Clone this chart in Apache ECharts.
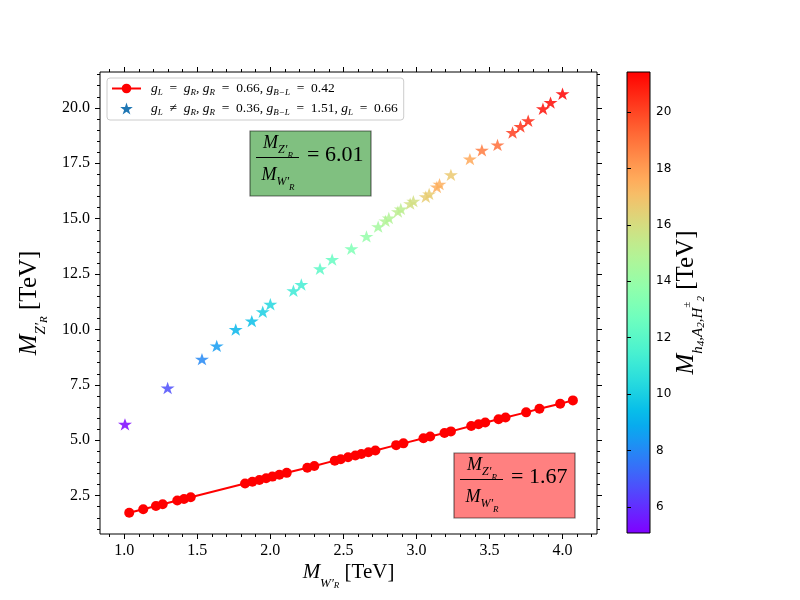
<!DOCTYPE html>
<html>
<head>
<meta charset="utf-8">
<script src="https://cdn.jsdelivr.net/npm/echarts@6/dist/echarts.min.js"></script>
<style>
  html, body { margin: 0; padding: 0; background: #fff; }
  #chart { width: 800px; height: 600px; }
</style>
</head>
<body>
<div id="chart"></div>
<script>
// g_L = g_R case (red line)
const wrMassEq = [1.034, 1.130, 1.217, 1.263, 1.363, 1.409, 1.455, 1.827, 1.877, 1.925, 1.971, 2.014, 2.062, 2.112,
  2.253, 2.301, 2.441, 2.482, 2.532, 2.582, 2.623, 2.671, 2.719, 2.861, 2.911, 3.048, 3.094, 3.192, 3.236,
  3.375, 3.425, 3.471, 3.562, 3.610, 3.751, 3.842, 3.984, 4.071]
const zrMassEq = [1.73, 1.89, 2.03, 2.11, 2.28, 2.35, 2.43, 3.05, 3.13, 3.21, 3.29, 3.36, 3.44, 3.53,
  3.76, 3.84, 4.08, 4.14, 4.23, 4.31, 4.38, 4.46, 4.54, 4.78, 4.86, 5.09, 5.17, 5.33, 5.40,
  5.64, 5.72, 5.80, 5.95, 6.03, 6.26, 6.42, 6.65, 6.80]

// g_L != g_R case (stars, coloured by scalar mass)
const wrMassNeq = [1.005, 1.297, 1.532, 1.633, 1.763, 1.873, 1.948, 2.000, 2.158, 2.212, 2.340, 2.423, 2.555, 2.658,
  2.738, 2.788, 2.811, 2.873, 2.893, 2.957, 2.979, 3.064, 3.087, 3.140, 3.158, 3.236, 3.366, 3.448, 3.555,
  3.658, 3.712, 3.765, 3.866, 3.918, 4.000]
const zrMassNeq = [5.72, 7.36, 8.66, 9.26, 10.00, 10.38, 10.80, 11.14, 11.75, 12.03, 12.74, 13.16, 13.64, 14.20,
  14.64, 14.90, 15.03, 15.32, 15.44, 15.68, 15.79, 15.99, 16.12, 16.43, 16.56, 16.98, 17.69, 18.09, 18.33,
  18.89, 19.16, 19.42, 19.96, 20.24, 20.64]
const scalarMass = [5.2, 6.7, 8.0, 8.5, 9.2, 9.5, 10.0, 10.3, 11.1, 11.3, 12.1, 12.4, 13.2, 13.9,
  14.4, 14.9, 14.9, 15.2, 15.2, 15.9, 15.9, 16.6, 16.6, 17.5, 17.5, 16.7, 17.7, 18.8, 19.1,
  20.1, 20.4, 20.6, 21.1, 21.2, 21.4]

const xTicks = [1.0, 1.5, 2.0, 2.5, 3.0, 3.5, 4.0]
const yTicks = [2.5, 5.0, 7.5, 10.0, 12.5, 15.0, 17.5, 20.0]
const cbarTicks = [6, 8, 10, 12, 14, 16, 18, 20]

const xRange = [0.834, 4.236]
const yRange = [0.77, 21.62]
const cRange = [5.07, 21.43]

const SERIF = 'Liberation Serif'
const STAR = 'path://M0,-100L22.45,-30.9L95.1,-30.9L36.33,11.8L58.78,80.9L0,38.2L-58.78,80.9L-36.33,11.8L-95.1,-30.9L-22.45,-30.9Z'

// minor ticks
const xMinor = []
for (let i = 9; i <= 42; i++) xMinor.push(i / 10)
const yMinor = []
for (let i = 2; i <= 43; i++) yMinor.push(i / 2)

// matplotlib "rainbow" colormap
function rainbow(t) {
  const c = v => Math.round(255 * Math.max(0, Math.min(1, v)))
  return 'rgb(' + c(Math.abs(2 * t - 0.5)) + ',' + c(Math.sin(Math.PI * t)) + ',' + c(Math.cos(Math.PI * t / 2)) + ')'
}
const rainbowStops = []
for (let i = 0; i <= 30; i++) rainbowStops.push(rainbow(i / 30))

// rich text styles imitating TeX sub/subsub scripts
function mathStyles(size, o) {
  o = Object.assign({ s: 0.6, sOff: 0.45, ss: 0.45, ssOff: 0.58 }, o || {})
  const base = { fontFamily: SERIF, color: '#000', verticalAlign: 'top' }
  const mid = 0.55 * size
  const sLh = Math.round(size * o.s * 1.05)
  const ssLh = Math.round(size * o.ss * 1.05)
  return {
    M: Object.assign({}, base, { fontStyle: 'italic', fontSize: size, lineHeight: Math.round(size * 1.1) }),
    s: Object.assign({}, base, { fontStyle: 'italic', fontSize: Math.round(size * o.s), lineHeight: sLh,
      padding: [Math.round(mid + o.sOff * size - sLh / 2), 0, 0, 0] }),
    ss: Object.assign({}, base, { fontStyle: 'italic', fontSize: Math.round(size * o.ss), lineHeight: ssLh,
      padding: [Math.round(mid + o.ssOff * size - ssLh / 2), 0, 0, 0] }),
    sup: Object.assign({}, base, { fontSize: Math.round(size * o.ss), lineHeight: ssLh,
      padding: [Math.round(mid - ssLh / 2), 0, 0, 0] }),
    t: Object.assign({}, base, { fontSize: size, lineHeight: Math.round(size * 1.1) })
  }
}

const legendRich = {
  g: { fontFamily: SERIF, fontStyle: 'italic', fontSize: 13.5, lineHeight: 15, verticalAlign: 'top', color: '#000' },
  l: { fontFamily: SERIF, fontStyle: 'italic', fontSize: 9, lineHeight: 9, padding: [7, 0, 0, 0], verticalAlign: 'top', color: '#000' },
  t: { fontFamily: SERIF, fontSize: 13.5, lineHeight: 15, verticalAlign: 'top', color: '#000' }
}
const EQ = '\u2002=\u2002'
const NE = '\u2002≠\u2002'
const legendText = {
  eq: '{g|g}{l|L}{t|' + EQ + '}{g|g}{l|R}{t|, }{g|g}{l|R}{t|' + EQ + '0.66, }{g|g}{l|B−L}{t|' + EQ + '0.42}',
  neq: '{g|g}{l|L}{t|' + NE + '}{g|g}{l|R}{t|, }{g|g}{l|R}{t|' + EQ + '0.36, }{g|g}{l|B−L}{t|' + EQ + '1.51, }{g|g}{l|L}{t|' + EQ + '0.66}'
}

function xAx(pos, values, len, labels) {
  return {
    type: 'value', gridIndex: 0, position: pos, min: xRange[0], max: xRange[1],
    axisLine: { show: false, onZero: false },
    splitLine: { show: false },
    axisTick: { show: true, customValues: values, length: len, lineStyle: { color: '#000', width: 1 } },
    axisLabel: labels
      ? { show: true, customValues: values, formatter: v => v.toFixed(1), fontFamily: SERIF, fontSize: 16, color: '#000', margin: 9 }
      : { show: false }
  }
}
function yAx(pos, values, len, labels) {
  return {
    type: 'value', gridIndex: 0, position: pos, min: yRange[0], max: yRange[1],
    axisLine: { show: false, onZero: false },
    splitLine: { show: false },
    axisTick: { show: true, customValues: values, length: len, lineStyle: { color: '#000', width: 1 } },
    axisLabel: labels
      ? { show: true, customValues: values, formatter: v => v.toFixed(1), fontFamily: SERIF, fontSize: 16, color: '#000', margin: 10 }
      : { show: false }
  }
}

const xMain = xAx('bottom', xTicks, 5, true)
xMain.name = '{M|M}{s|W′}{ss|R}{t| [TeV]}'
xMain.nameLocation = 'middle'
xMain.nameGap = 28
xMain.nameMoveOverlap = false
xMain.nameTextStyle = { rich: mathStyles(21) }

const yMain = yAx('left', yTicks, 5, true)
yMain.name = '{M|M}{s|Z′}{ss|R}{t| [TeV]}'
yMain.nameLocation = 'middle'
yMain.nameGap = 55
yMain.nameMoveOverlap = false
yMain.nameTextStyle = { rich: mathStyles(25) }

function ratioBox(x, y, fill, value) {
  const r = mathStyles(18, { s: 0.68, sOff: 0.37, ss: 0.5, ssOff: 0.65 })
  return {
    type: 'group', x: x, y: y, silent: true,
    children: [
      { type: 'rect', shape: { x: 0, y: 0, width: 121, height: 65 },
        style: { fill: fill, stroke: 'rgba(0,0,0,0.55)', lineWidth: 1.2 } },
      { type: 'text', x: 28, y: 3,
        style: { text: '{M|M}{s|Z′}{ss|R}', rich: r, align: 'center', verticalAlign: 'top' } },
      { type: 'line', shape: { x1: 6, y1: 26.5, x2: 49, y2: 26.5 }, style: { stroke: '#000', lineWidth: 1 } },
      { type: 'text', x: 28, y: 35,
        style: { text: '{M|M}{s|W′}{ss|R}', rich: r, align: 'center', verticalAlign: 'top' } },
      { type: 'text', x: 57, y: 24,
        style: { text: '= ' + value, fontFamily: SERIF, fontSize: 22, fill: '#000', align: 'left', verticalAlign: 'middle' } }
    ]
  }
}

const chart = echarts.init(document.getElementById('chart'))

const option = {
  animation: false,
  backgroundColor: '#fff',
  grid: [
    { left: 100, top: 72, width: 497, height: 462, show: true, borderColor: '#000', borderWidth: 1,
      backgroundColor: 'transparent', containLabel: false, outerBoundsMode: 'none' },
    { left: 627, top: 72, width: 23, height: 461, show: true, borderColor: '#000', borderWidth: 1,
      containLabel: false, outerBoundsMode: 'none',
      backgroundColor: {
        type: 'linear', x: 0, y: 1, x2: 0, y2: 0,
        colorStops: rainbowStops.map((c, i) => ({ offset: i / (rainbowStops.length - 1), color: c }))
      } }
  ],
  xAxis: [
    xMain,
    xAx('bottom', xMinor, 3, false),
    xAx('top', xTicks, 5, false),
    xAx('top', xMinor, 3, false),
    { type: 'value', gridIndex: 1, show: false, min: 0, max: 1 }
  ],
  yAxis: [
    yMain,
    yAx('left', yMinor, 3, false),
    yAx('right', yTicks, 5, false),
    yAx('right', yMinor, 3, false),
    {
      type: 'value', gridIndex: 1, position: 'right', min: cRange[0], max: cRange[1],
      axisLine: { show: false },
      splitLine: { show: false },
      axisTick: { show: true, customValues: cbarTicks, length: 4, lineStyle: { color: '#000' } },
      axisLabel: { show: true, customValues: cbarTicks, fontFamily: 'DejaVu Sans', fontSize: 12, color: '#000', margin: 6 },
      name: '{M|M}{s|h}{ss|4}{s|,A}{ss|2}{s|,H}{sup|±}{ss|2}{t| [TeV]}',
      nameLocation: 'middle',
      nameRotate: 90,
      nameGap: 24,
      nameMoveOverlap: false,
      nameTextStyle: { rich: mathStyles(25) }
    }
  ],
  visualMap: {
    type: 'continuous', show: false, seriesIndex: 1, dimension: 2,
    min: cRange[0], max: cRange[1],
    inRange: { color: rainbowStops }
  },
  legend: {
    left: 107, top: 78, orient: 'vertical',
    padding: [3, 6, 3, 4], itemGap: 4, itemWidth: 29, itemHeight: 12,
    borderColor: '#cccccc', borderWidth: 1, borderRadius: 3,
    backgroundColor: 'rgba(255,255,255,0.8)',
    selectedMode: false,
    data: [
      { name: 'eq' },
      { name: 'neq', itemStyle: { color: '#1f77b4', opacity: 1 } }
    ],
    formatter: name => legendText[name],
    textStyle: { rich: legendRich, padding: [0, 0, 0, 5] }
  },
  series: [
    {
      name: 'eq', type: 'line', xAxisIndex: 0, yAxisIndex: 0,
      data: wrMassEq.map((x, i) => [x, zrMassEq[i]]),
      symbol: 'circle', symbolSize: 10, showAllSymbol: true,
      lineStyle: { color: '#ff0000', width: 2 },
      itemStyle: { color: '#ff0000' },
      z: 3
    },
    {
      name: 'neq', type: 'scatter', xAxisIndex: 0, yAxisIndex: 0,
      data: wrMassNeq.map((x, i) => [x, zrMassNeq[i], scalarMass[i]]),
      symbol: STAR, symbolSize: [14, 13], symbolKeepAspect: true,
      itemStyle: { color: '#1f77b4', opacity: 0.85 },
      z: 2
    }
  ],
  graphic: [
    ratioBox(250, 131, '#80c080', '6.01'),
    ratioBox(454, 453, '#ff8080', '1.67')
  ]
}

chart.setOption(option)
</script>
</body>
</html>
